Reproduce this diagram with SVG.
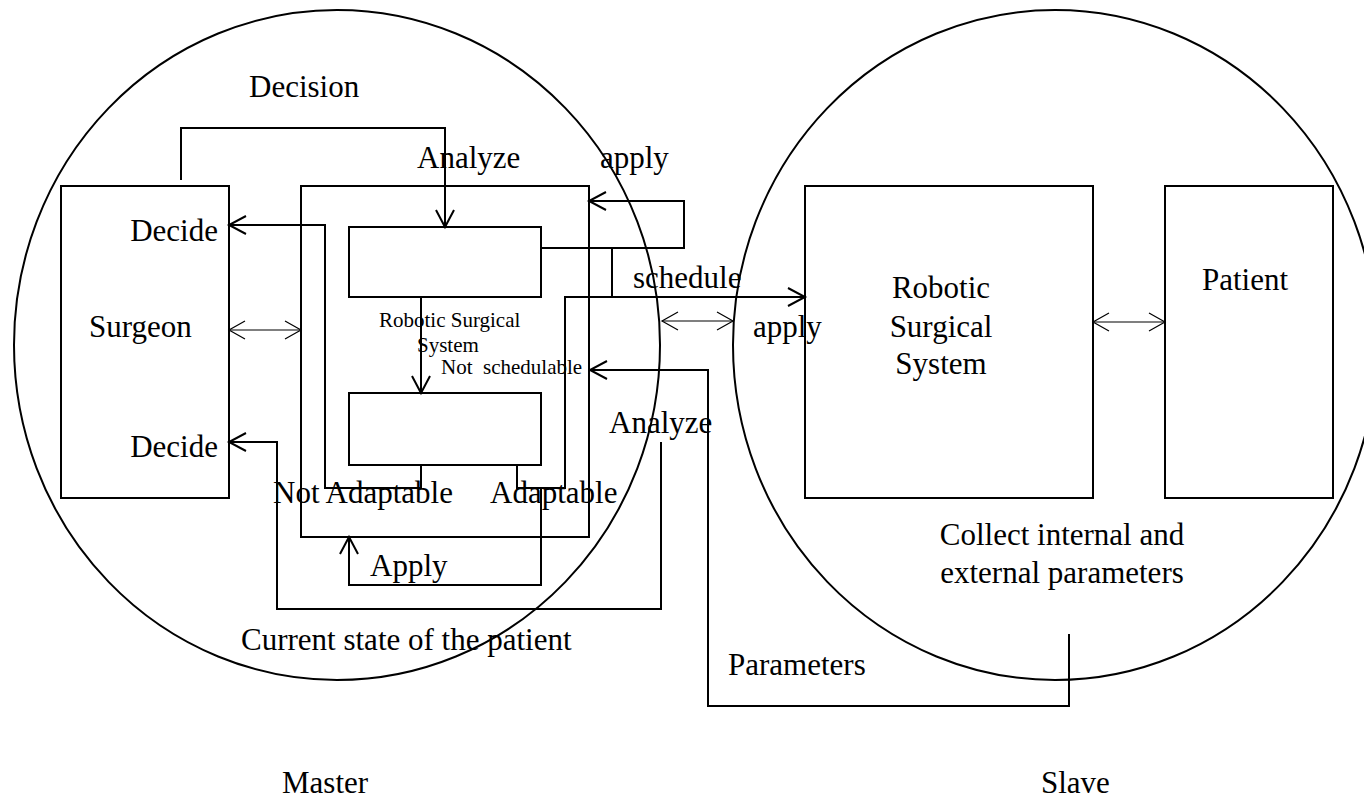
<svg xmlns="http://www.w3.org/2000/svg" width="1364" height="799" viewBox="0 0 1364 799">
  <style>
    .bg { fill: #ffffff; }
    .shape { fill: none; stroke: #000; stroke-width: 2; }
    .wire { fill: none; stroke: #000; stroke-width: 2; }
    .thin { fill: none; stroke: #000; stroke-width: 1.2; }
    text { font-family: "Liberation Serif", "Times New Roman", serif; fill: #000; }
    .lbl { font-size: 31px; }
    .small { font-size: 21px; }
    .mid { text-anchor: middle; }
    .end { text-anchor: end; }
  </style>
  <defs>
    <!-- open V arrowhead, drawn in user units -->
    <marker id="arrow" markerUnits="userSpaceOnUse" markerWidth="24" markerHeight="24" viewBox="-20 -12 22 24" refX="0" refY="0" orient="auto" overflow="visible">
      <path d="M -17 -9 L 0 0 L -17 9" fill="none" stroke="#000" stroke-width="2"/>
    </marker>
    <marker id="arrowThin" markerUnits="userSpaceOnUse" markerWidth="24" markerHeight="24" viewBox="-20 -12 22 24" refX="0" refY="0" orient="auto-start-reverse" overflow="visible">
      <path d="M -16 -9 L 0 0 L -16 9" fill="none" stroke="#000" stroke-width="1.2"/>
    </marker>
  </defs>

  <rect class="bg" x="0" y="0" width="1364" height="799"/>

  <!-- Master domain -->
  <g id="master-region">
    <ellipse class="shape" cx="337" cy="345" rx="323" ry="335"/>
    <text class="lbl" x="282" y="793">Master</text>
  </g>

  <!-- Slave domain -->
  <g id="slave-region">
    <ellipse class="shape" cx="1055" cy="345" rx="322" ry="335"/>
    <text class="lbl" x="1041" y="793">Slave</text>
  </g>

  <g id="surgeon">
    <rect class="shape" x="61" y="186" width="168" height="312"/>
    <text class="lbl" x="89" y="337">Surgeon</text>
    <text class="lbl end" x="218" y="241">Decide</text>
    <text class="lbl end" x="218" y="457">Decide</text>
  </g>

  <g id="master-system">
    <rect class="shape" x="301" y="186" width="288" height="351"/>
    <text class="small" x="379" y="327">Robotic Surgical</text>
    <text class="small" x="417" y="352">System</text>
  </g>

  <g id="analysis-block">
    <rect class="shape" x="349" y="227" width="192" height="70"/>
  </g>

  <g id="adaptation-block">
    <rect class="shape" x="349" y="393" width="192" height="72"/>
  </g>

  <g id="slave-system">
    <rect class="shape" x="805" y="186" width="288" height="312"/>
    <text class="lbl mid" x="941" y="298">Robotic</text>
    <text class="lbl mid" x="941" y="337">Surgical</text>
    <text class="lbl mid" x="941" y="374">System</text>
  </g>

  <g id="patient">
    <rect class="shape" x="1165" y="186" width="168" height="312"/>
    <text class="lbl mid" x="1245" y="290">Patient</text>
  </g>

  <g id="connectors">
    <!-- Decision: surgeon to analysis block -->
    <path class="wire" d="M 181 180 L 181 128 L 445 128 L 445 227" marker-end="url(#arrow)"/>
    <!-- analysis block to adaptation block -->
    <path class="wire" d="M 421 297 L 421 393" marker-end="url(#arrow)"/>
    <!-- Not adaptable: back to surgeon -->
    <path class="wire" d="M 421 465 L 421 488 L 325 488 L 325 225 L 229 225" marker-end="url(#arrow)"/>
    <!-- Adaptable: schedule to slave system -->
    <path class="wire" d="M 517 465 L 517 488 L 565 488 L 565 297 L 805 297" marker-end="url(#arrow)"/>
    <path class="wire" d="M 612 248 L 612 297"/>
    <!-- apply loop -->
    <path class="wire" d="M 541 248 L 684 248 L 684 201 L 589 201" marker-end="url(#arrow)"/>
    <!-- Apply loop at the bottom -->
    <path class="wire" d="M 541 488 L 541 585 L 349 585 L 349 537" marker-end="url(#arrow)"/>
    <!-- Analyze: current state of the patient -->
    <path class="wire" d="M 661 442 L 661 609 L 277 609 L 277 442 L 229 442" marker-end="url(#arrow)"/>
    <!-- Parameters: not schedulable -->
    <path class="wire" d="M 1069 634 L 1069 706 L 708 706 L 708 370 L 590 370" marker-end="url(#arrow)"/>
    <!-- two-way links -->
    <path class="thin" d="M 229 330 L 301 330" marker-start="url(#arrowThin)" marker-end="url(#arrowThin)"/>
    <path class="thin" d="M 662 321 L 733 321" marker-start="url(#arrowThin)" marker-end="url(#arrowThin)"/>
    <path class="thin" d="M 1093 322 L 1165 322" marker-start="url(#arrowThin)" marker-end="url(#arrowThin)"/>
  </g>

  <g id="labels">
    <text class="lbl" x="249" y="97">Decision</text>
    <text class="lbl" x="417" y="168">Analyze</text>
    <text class="lbl" x="600" y="168">apply</text>
    <text class="lbl" x="633" y="288">schedule</text>
    <text class="lbl" x="753" y="337">apply</text>
    <text class="small" x="441" y="374" xml:space="preserve">Not  schedulable</text>
    <text class="lbl" x="609" y="433">Analyze</text>
    <text class="lbl" x="273" y="503">Not Adaptable</text>
    <text class="lbl" x="490" y="503">Adaptable</text>
    <text class="lbl" x="370" y="576">Apply</text>
    <text class="lbl" x="241" y="650">Current state of the patient</text>
    <text class="lbl mid" x="1062" y="545">Collect internal and</text>
    <text class="lbl mid" x="1062" y="583">external parameters</text>
    <text class="lbl" x="728" y="675">Parameters</text>
  </g>
</svg>
